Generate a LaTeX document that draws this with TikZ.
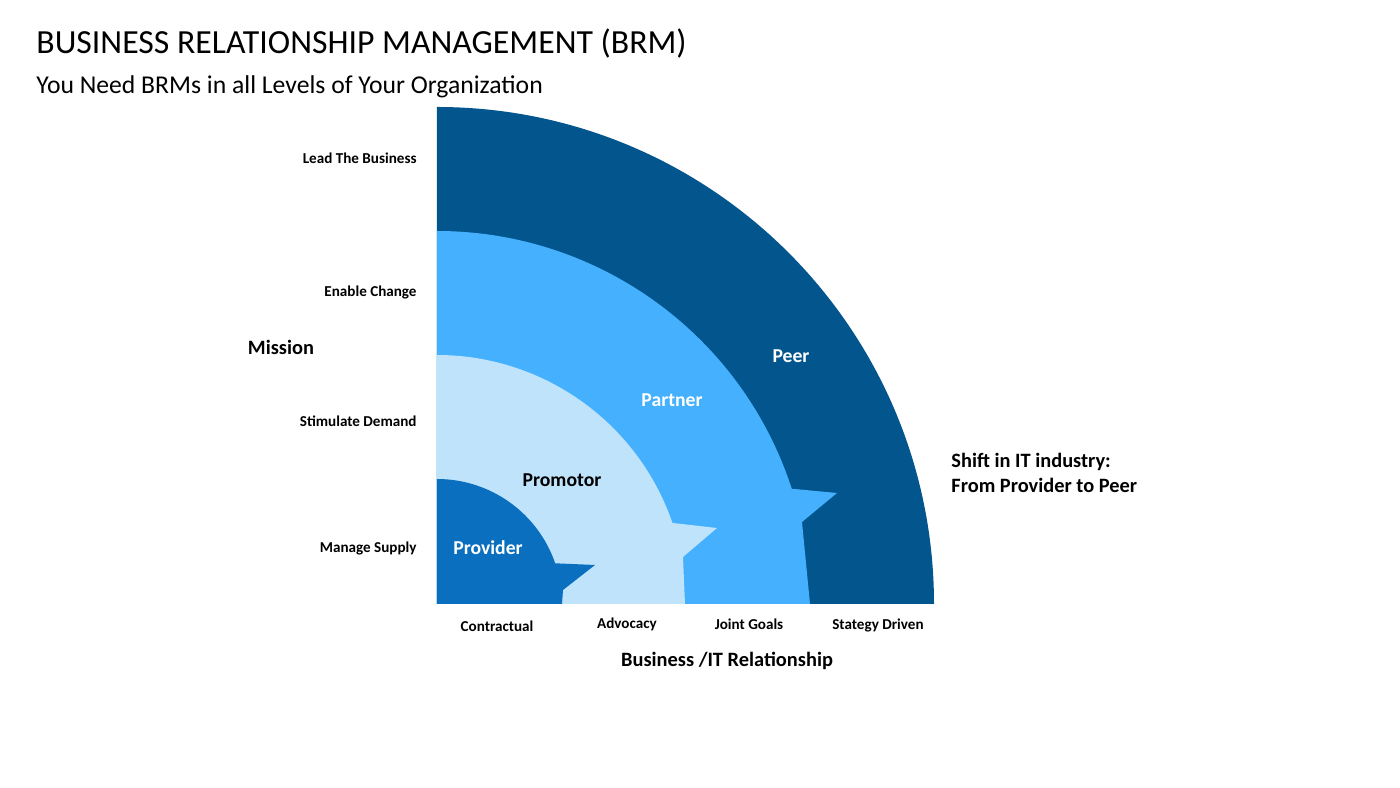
\documentclass[tikz,border=0pt]{standalone}
\usepackage{fontspec}
\setmainfont{Carlito}
\definecolor{PeerBlue}{HTML}{03558E}
\definecolor{PartnerBlue}{HTML}{45B0FE}
\definecolor{PromotorBlue}{HTML}{BEE3FB}
\definecolor{ProviderBlue}{HTML}{0A6FBF}
\tikzset{
    level/.style = {font=\fontsize{4.3}{5}\selectfont\bfseries, anchor=east},
    axis/.style = {font=\fontsize{4.3}{5}\selectfont\bfseries},
    ring/.style = {font=\fontsize{5.6}{6.5}\selectfont\bfseries, text=white},
    caption/.style = {font=\fontsize{5.8}{7}\selectfont\bfseries}
}
\begin{document}
\begin{tikzpicture}[x=0.01cm, y=0.01cm]
        \useasboundingbox (-437,-184) rectangle (963,604);
        % rings, largest first
        \fill[PeerBlue] (0,0) -- (0,497) arc[start angle=90, end angle=0, radius=497] -- cycle;
        \fill[PartnerBlue] (0,0) -- (0,373) arc[start angle=90, end angle=18, radius=373] -- (400,111) -- (365,82) -- (373,0) -- cycle;
        \fill[PromotorBlue] (0,0) -- (0,249) arc[start angle=90, end angle=19, radius=249] -- (280,76) -- (246,47) -- (248,0) -- cycle;
        \fill[ProviderBlue] (0,0) -- (0,125) arc[start angle=90, end angle=19, radius=125] -- (158,39) -- (126,14) -- (125,0) -- cycle;
        % titles
        \node[anchor=west, font=\fontsize{9.6}{11}\selectfont] (title) at (-413,560) {BUSINESS RELATIONSHIP MANAGEMENT (BRM)};
        \node[anchor=west, font=\fontsize{7.3}{9}\selectfont] (subtitle) at (-413,517) {You Need BRMs in all Levels of Your Organization};
        % mission levels
        \node[level] (lead) at (-8,446) {Lead The Business};
        \node[level] (enable) at (-8,312) {Enable Change};
        \node[level] (stimulate) at (-8,183) {Stimulate Demand};
        \node[level] (manage) at (-8,56) {Manage Supply};
        \node[caption] (mission) at (-156,257) {Mission};
        % relationship levels
        \node[axis] (contract) at (60,-22) {Contractual};
        \node[axis] (advocacy) at (190,-20) {Advocacy};
        \node[axis] (joint) at (312,-20) {Joint Goals};
        \node[axis] (strategy) at (441,-21) {Stategy Driven};
        \node[caption] (relation) at (290,-57) {Business /IT Relationship};
        % ring names
        \node[ring] (provider) at (51,56) {Provider};
        \node[ring, text=black] (promotor) at (125,124) {Promotor};
        \node[ring] (partner) at (235,204) {Partner};
        \node[ring] (peer) at (354,248) {Peer};
        \node[caption, anchor=west, align=left] (shift) at (502,131) {Shift in IT industry:\\From Provider to Peer};
\end{tikzpicture}
\end{document}
